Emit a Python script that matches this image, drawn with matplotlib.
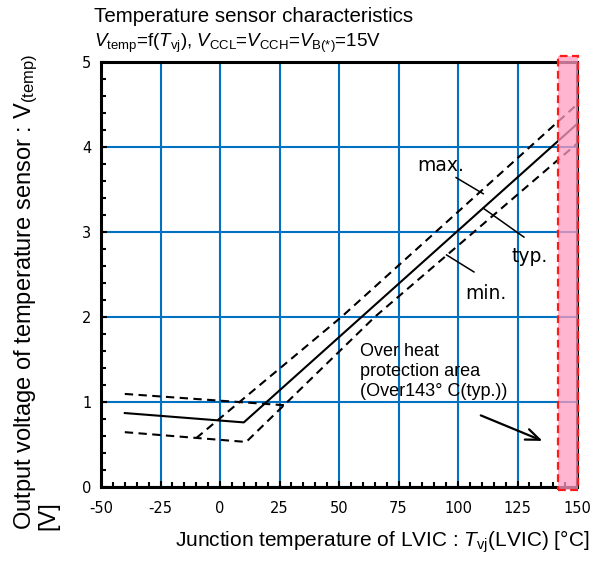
import matplotlib
matplotlib.use("Agg")
import matplotlib.pyplot as plt
from matplotlib.patches import Rectangle
from matplotlib.ticker import MultipleLocator

plt.rcParams['font.family'] = ['Liberation Sans', 'DejaVu Sans']
plt.rcParams['mathtext.fontset'] = 'custom'
plt.rcParams['mathtext.rm'] = 'Liberation Sans'
plt.rcParams['mathtext.it'] = 'Liberation Sans:italic'
plt.rcParams['mathtext.bf'] = 'Liberation Sans:bold'
plt.rcParams['axes.unicode_minus'] = False

# ---- data ----
typ_T = [-40, 10, 150]
typ_V = [0.87, 0.76, 4.27]
max_T = [-10, 51, 150]
max_V = [0.575, 2.0, 4.50]
min_T = [-40, 11, 65, 150]
min_V = [0.645, 0.53, 2.0, 4.04]
upper_T = [-40, 28]
upper_V = [1.095, 0.96]
protect_T = [142, 150.5]   # over heat protection area (x range)
x_ticks = [-50, -25, 0, 25, 50, 75, 100, 125, 150]
y_ticks = [0, 1, 2, 3, 4, 5]

W, H = 601, 579
fig = plt.figure(figsize=(W / 100, H / 100), dpi=100)
ax = fig.add_axes([101 / W, 1 - 487 / H, (577 - 101) / W, (487 - 62) / H])

ax.set_xlim(-50, 150)
ax.set_ylim(0, 5)
ax.set_xticks(x_ticks)
ax.set_yticks(y_ticks)
ax.xaxis.set_minor_locator(MultipleLocator(5))
ax.yaxis.set_minor_locator(MultipleLocator(0.2))
ax.grid(True, which='major', color='#0070C0', lw=1.5, zorder=1)
ax.set_axisbelow(True)
ax.tick_params(which='both', direction='in', color='black')
ax.tick_params(which='major', length=4, width=1.5, labelsize=10.5)
ax.tick_params(axis='x', which='major', pad=10)
ax.tick_params(axis='y', which='major', pad=7)
ax.tick_params(which='minor', length=3.5, width=1.5)
for lbl in ax.get_xticklabels() + ax.get_yticklabels():
    lbl.set_fontfamily('DejaVu Sans')
for s in ax.spines.values():
    s.set_linewidth(2.2)
    s.set_color('black')

dash = (0, (4, 2.6))
ax.plot(typ_T, typ_V, color='black', lw=1.5, zorder=4)
ax.plot(max_T, max_V, color='black', lw=1.5, ls=dash, zorder=4)
ax.plot(min_T, min_V, color='black', lw=1.5, ls=dash, zorder=4)
ax.plot(upper_T, upper_V, color='black', lw=1.5, ls=dash, zorder=4)

# over heat protection area
ax.add_patch(Rectangle((protect_T[0], -0.03), protect_T[1] - protect_T[0], 5.1,
                       facecolor='#FF9CC0', alpha=0.75, edgecolor='none',
                       zorder=5, clip_on=False))
ax.add_patch(Rectangle((protect_T[0], -0.03), protect_T[1] - protect_T[0], 5.1,
                       facecolor='none', edgecolor='#FF1A1A', lw=1.6,
                       ls=(0, (3.5, 2)), zorder=6, clip_on=False))

# labels for curves
lab_kw = dict(fontsize=13.5, family='DejaVu Sans', ha='center', va='baseline', zorder=7)
ax.text(92.9, 3.72, 'max.', **lab_kw)
ax.text(130.3, 2.65, 'typ.', **lab_kw)
ax.text(111.8, 2.21, 'min.', **lab_kw)
ax.plot([99.2, 110.6], [3.64, 3.45], color='black', lw=1.1, zorder=7)
ax.plot([110.6, 127.7], [3.28, 2.94], color='black', lw=1.1, zorder=7)
ax.plot([95.2, 106.7], [2.73, 2.53], color='black', lw=1.1, zorder=7)

ax.text(58.8, 1.69, 'Over heat\nprotection area\n(Over143\u00b0 C(typ.))',
        fontsize=13, ha='left', va='top', linespacing=1.22, zorder=7)
ax.annotate('', xy=(136.6, 0.53), xytext=(108.5, 0.855),
            arrowprops=dict(arrowstyle='->,head_length=1.0,head_width=0.4',
                            color='black', lw=1.6), zorder=7)

# titles
fig.text(94 / W, 1 - 22 / H, 'Temperature sensor characteristics',
         fontsize=14.8, ha='left', va='baseline')
fig.text(94 / W, 1 - 47 / H,
         r'$V_{\mathrm{temp}}$=f($T_{\mathrm{vj}}$), $V_{\mathrm{CCL}}$=$V_{\mathrm{CCH}}$=$V_{\mathrm{B(*)}}$=15V',
         fontsize=13.5, ha='left', va='baseline')

fig.text(382 / W, 1 - 547 / H,
         r'Junction temperature of LVIC : $T_{\mathrm{vj}}$(LVIC) [°C]',
         fontsize=15, ha='center', va='baseline')
fig.text(36 / W, 1 - 530 / H,
         'Output voltage of temperature sensor : V$_{\\mathrm{(temp)}}$\n[V]',
         fontsize=17, ha='center', va='bottom', rotation=90,
         multialignment='left', linespacing=0.85)

fig.savefig('out.png', dpi=100)
